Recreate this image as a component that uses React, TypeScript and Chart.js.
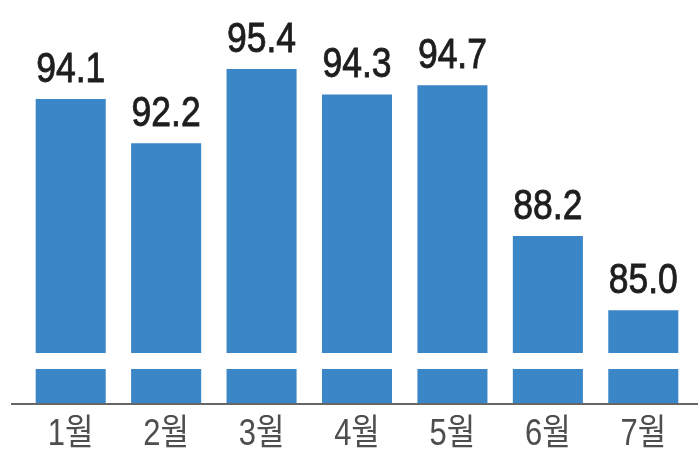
import React, { useEffect, useRef } from "react";
import { Chart, registerables } from "chart.js";

Chart.register(...registerables);

const categories = ["1월", "2월", "3월", "4월", "5월", "6월", "7월"];
const values = [94.1, 92.2, 95.4, 94.3, 94.7, 88.2, 85.0];
const valueLabels = ["94.1", "92.2", "95.4", "94.3", "94.7", "88.2", "85.0"];

const BAR_COLOR = "#3a86c6";

function condensedText(ctx: CanvasRenderingContext2D, t: string, x: number, y: number, sx: number, stroke: number) {
  ctx.save();
  ctx.translate(x, y);
  ctx.scale(sx, 1);
  ctx.fillText(t, 0, 0);
  if (stroke > 0) {
    ctx.lineWidth = stroke;
    ctx.strokeStyle = ctx.fillStyle as string;
    ctx.strokeText(t, 0, 0);
  }
  ctx.restore();
}

const decorPlugin = {
  id: "decor",
  afterDatasetsDraw(chart: any) {
    const { ctx, chartArea, scales } = chart;
    const x = scales.x;
    const meta = chart.getDatasetMeta(0);
    ctx.save();
    // broken-axis white band
    ctx.fillStyle = "#ffffff";
    ctx.fillRect(0, chartArea.bottom - 50, chart.width, 16);
    // baseline
    ctx.strokeStyle = "#333333";
    ctx.lineWidth = 1.5;
    ctx.beginPath();
    ctx.moveTo(11, chartArea.bottom + 1);
    ctx.lineTo(chart.width, chartArea.bottom + 1);
    ctx.stroke();
    // value labels
    ctx.fillStyle = "#1e1e1e";
    ctx.font = '42px "Liberation Sans", Arial, sans-serif';
    ctx.textAlign = "center";
    ctx.textBaseline = "alphabetic";
    meta.data.forEach((bar: any, i: number) => {
      condensedText(ctx, valueLabels[i], bar.x, bar.y - 17, 0.845, 0.9);
    });
    // category labels
    ctx.fillStyle = "#4e4e4e";
    ctx.font = '36px "Liberation Sans", "Noto Sans CJK KR", sans-serif';
    categories.forEach((c, i) => {
      condensedText(ctx, c, x.getPixelForValue(i), chartArea.bottom + 42, 0.86, 0);
    });
    ctx.restore();
  },
};

export default function App() {
  const ref = useRef<HTMLCanvasElement | null>(null);
  useEffect(() => {
    document.body.style.margin = "0";
    const chart = new Chart(ref.current as HTMLCanvasElement, {
      type: "bar",
      data: {
        labels: categories,
        datasets: [
          {
            data: values,
            backgroundColor: BAR_COLOR,
            barPercentage: 0.734,
            categoryPercentage: 1,
          },
        ],
      },
      options: {
        animation: false,
        responsive: false,
        layout: { padding: { left: 23, right: 7, top: 0, bottom: 0 } },
        plugins: { legend: { display: false }, tooltip: { enabled: false } },
        scales: {
          x: {
            grid: { display: false },
            border: { display: false },
            ticks: { display: false },
            afterFit: (s: any) => {
              s.height = 51;
            },
          },
          y: {
            display: false,
            min: 81,
            max: 98.37,
          },
        },
      },
      plugins: [decorPlugin],
    });
    return () => chart.destroy();
  }, []);
  return (
    <div style={{ width: 698, height: 454, background: "#fff" }}>
      <canvas ref={ref} width={698} height={454} />
    </div>
  );
}
